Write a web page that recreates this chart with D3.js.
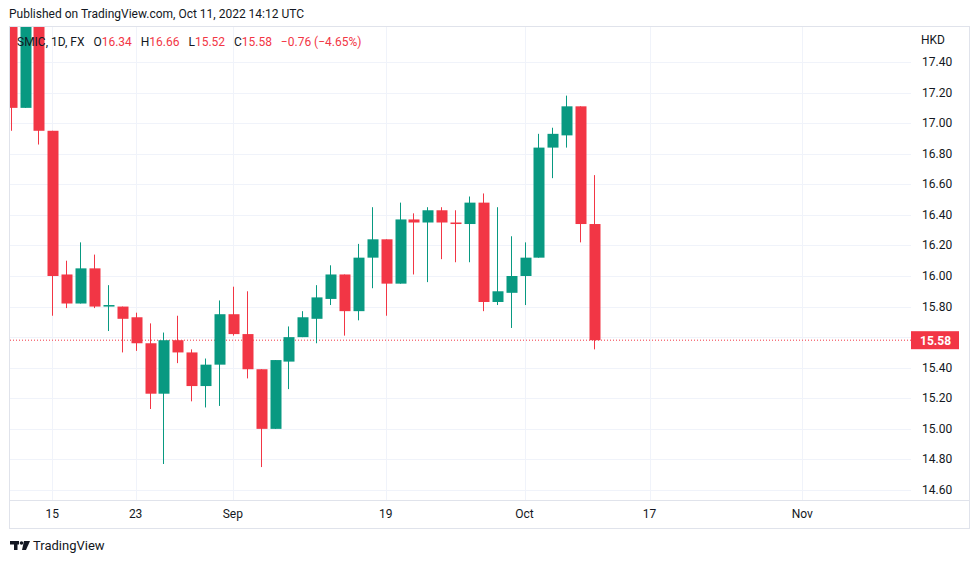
<!DOCTYPE html>
<html lang="en">
<head>
<meta charset="utf-8">
<title>SMIC 1D</title>
<script src="https://d3js.org/d3.v7.min.js"></script>
<style>
body { margin:0; background:#fff; font-family: Roboto, "Noto Sans", sans-serif; color:#131722; }
svg text { font-family: Roboto, "Noto Sans", sans-serif; white-space: pre; }
</style>
</head>
<body>
<script>
// daily bars, oldest first: [open, high, low, close]
var opens  = [17.80,17.10,17.80,16.95,16.01,15.82,16.05,15.80,15.80,15.73,15.56,15.23,15.58,15.50,15.28,15.42,15.75,15.62,15.39,15.00,15.44,15.60,15.72,15.85,16.01,15.77,16.12,16.24,15.95,16.37,16.35,16.43,16.35,16.34,16.48,15.83,15.89,16.00,16.12,16.84,16.92,17.11,16.34];
var highs  = [17.80,17.80,17.80,16.95,16.10,16.22,16.14,15.94,15.80,15.76,15.69,15.63,15.74,15.52,15.46,15.84,15.93,15.90,15.39,15.45,15.67,15.77,15.94,16.07,16.01,16.21,16.45,16.24,16.48,16.41,16.45,16.45,16.43,16.52,16.54,16.45,16.26,16.22,16.93,16.97,17.18,17.11,16.66];
var lows   = [16.95,17.10,16.86,15.74,15.79,15.82,15.79,15.64,15.50,15.51,15.13,14.77,15.43,15.18,15.14,15.15,15.61,15.33,14.75,15.00,15.26,15.60,15.56,15.81,15.61,15.71,15.92,15.74,15.95,16.01,15.96,16.11,16.09,16.09,15.77,15.81,15.66,15.81,16.12,16.64,16.84,16.22,15.52];
var closes = [17.10,17.80,16.95,16.00,15.82,16.05,15.80,15.81,15.72,15.56,15.23,15.58,15.50,15.28,15.42,15.75,15.62,15.39,15.00,15.45,15.60,15.73,15.86,16.01,15.77,16.12,16.24,15.95,16.37,16.35,16.43,16.35,16.34,16.48,15.83,15.90,16.00,16.12,16.84,16.93,17.11,16.34,15.58];
// x-axis labels by bar index
var tickIdx    = [3, 9, 16, 27, 37, 46, 57];
var tickLabels = ["15", "23", "Sep", "19", "Oct", "17", "Nov"];
var priceTicks = [14.6,14.8,15.0,15.2,15.4,15.6,15.8,16.0,16.2,16.4,16.6,16.8,17.0,17.2,17.4];

var W = 979, H = 563;
var L = 10, R = 911, T = 27, B = 500;
var up = "#089981", dn = "#f23645";

var svg = d3.select("body").append("svg").attr("width", W).attr("height", H);

var x = d3.scaleLinear().domain([3, 42]).range([52.3, 594]);
var y = d3.scaleLinear().domain([14.6, 17.4]).range([490, 62]);

svg.append("defs").append("clipPath").attr("id","plot")
  .append("rect").attr("x",L).attr("y",T).attr("width",R-L).attr("height",B-T);

// frame
svg.append("rect").attr("x",9.5).attr("y",26.5).attr("width",960).attr("height",502)
  .attr("fill","none").attr("stroke","#e0e3eb");
svg.append("line").attr("x1",10).attr("x2",969).attr("y1",500.5).attr("y2",500.5).attr("stroke","#e0e3eb");

// grid
var g = svg.append("g").attr("clip-path","url(#plot)");
g.selectAll(".hg").data(priceTicks).enter().append("line")
  .attr("x1",L).attr("x2",R).attr("y1",d=>Math.round(y(d))+0.5).attr("y2",d=>Math.round(y(d))+0.5)
  .attr("stroke","#f0f3fa");
g.selectAll(".vg").data(tickIdx).enter().append("line")
  .attr("y1",T).attr("y2",B).attr("x1",d=>Math.round(x(d))+0.5).attr("x2",d=>Math.round(x(d))+0.5)
  .attr("stroke","#f0f3fa");

// last price line
var last = closes[closes.length-1];
g.append("line").attr("x1",L).attr("x2",R).attr("y1",y(last)).attr("y2",y(last))
  .attr("stroke",dn).attr("stroke-width",1).attr("stroke-dasharray","1,2");

// candles
var bars = d3.range(opens.length);
var bw = 10;
g.selectAll(".wick").data(bars).enter().append("line")
  .attr("x1",i=>Math.round(x(i))+0.5).attr("x2",i=>Math.round(x(i))+0.5)
  .attr("y1",i=>y(highs[i])).attr("y2",i=>y(lows[i]))
  .attr("stroke",i=>closes[i]>=opens[i]?up:dn);
g.selectAll(".body").data(bars).enter().append("rect")
  .attr("x",i=>Math.round(x(i))+0.5-bw/2).attr("width",bw+1)
  .attr("y",i=>y(Math.max(opens[i],closes[i])))
  .attr("height",i=>Math.max(1,Math.abs(y(opens[i])-y(closes[i]))))
  .attr("fill",i=>closes[i]>=opens[i]?up:dn);

// price axis (labels hidden behind the last-price badge are skipped)
var ax = svg.append("g").attr("font-size",12).attr("fill","#131722");
ax.selectAll(".pt").data(priceTicks.filter(d=>Math.abs(y(d)-y(last))>14)).enter().append("text")
  .attr("x",922).attr("y",d=>y(d)+4).text(d=>d.toFixed(2));
ax.append("text").attr("x",921).attr("y",44).text("HKD");
svg.append("rect").attr("x",911).attr("y",y(last)-9).attr("width",48).attr("height",18).attr("fill",dn);
svg.append("text").attr("x",920).attr("y",y(last)+4.5).attr("fill","#fff").attr("font-size",12)
  .attr("font-weight","bold").text(last.toFixed(2));

// time axis
svg.append("g").attr("font-size",12).selectAll("text").data(tickIdx).enter().append("text")
  .attr("x",d=>x(d)).attr("y",518).attr("text-anchor","middle").attr("fill","#131722")
  .text((d,i)=>tickLabels[i]);

// legend
var leg = svg.append("text").attr("x",17).attr("y",46).attr("font-size",12).attr("fill","#131722");
leg.append("tspan").text("SMIC, 1D, FX   O");
leg.append("tspan").attr("fill",dn).text(opens[42].toFixed(2));
leg.append("tspan").text("   H");
leg.append("tspan").attr("fill",dn).text(highs[42].toFixed(2));
leg.append("tspan").text("   L");
leg.append("tspan").attr("fill",dn).text(lows[42].toFixed(2));
leg.append("tspan").text("   C");
leg.append("tspan").attr("fill",dn).text(closes[42].toFixed(2));
leg.append("tspan").attr("fill",dn).text("   \u22120.76 (\u22124.65%)");

// header and footer
svg.append("text").attr("x",9).attr("y",18).attr("font-size",12).attr("fill","#131722")
  .text("Published on TradingView.com, Oct 11, 2022 14:12 UTC");
var logo = svg.append("g").attr("fill","#131722");
logo.append("rect").attr("x",10).attr("y",541).attr("width",9).attr("height",3.5);
logo.append("rect").attr("x",14).attr("y",541).attr("width",3.5).attr("height",9);
logo.append("circle").attr("cx",21.5).attr("cy",543).attr("r",1.8);
logo.append("path").attr("d","M24 541 L30 541 L26 550 L22 550 Z");
svg.append("text").attr("x",33).attr("y",550).attr("font-size",13).attr("fill","#131722").text("TradingView");
</script>
</body>
</html>
